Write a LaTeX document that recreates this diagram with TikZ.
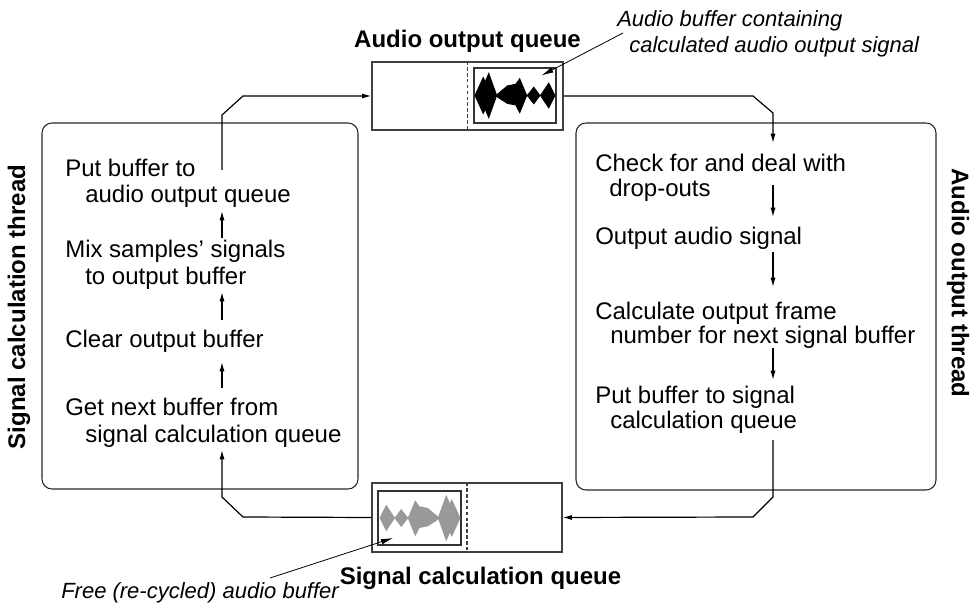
\documentclass[tikz,border=0pt]{standalone}
\usepackage{fontspec}
\setmainfont{Liberation Sans}
\usetikzlibrary{arrows.meta}

\tikzset{
  stxt/.style={anchor=base west, inner sep=0pt, font=\fontsize{18}{20}\selectfont},
  ttl/.style={inner sep=0pt, font=\fontsize{18}{20}\selectfont\bfseries},
  note/.style={anchor=base west, inner sep=0pt, font=\fontsize{16.5}{18}\selectfont\itshape},
  threadbox/.style={draw=black!85, line width=0.8pt, rounded corners=7.5pt},
  qbox/.style={draw=black!75, line width=0.9pt, inner sep=0pt},
  bufbox/.style={draw=black!80, line width=0.8pt},
  flow/.style={draw=black, line width=0.9pt, -{Latex[length=7pt,width=3.8pt]}},
  pointer/.style={draw=black, line width=0.6pt, -{Latex[length=9pt,width=4.2pt]}},
}

% waveform drawn in pixel units, left edge at u=0, centre line at v=0
\newcommand{\wavedraw}[1]{%
  \fill[#1] (0,0) -- (8.7,-19) -- (17.7,0) -- (8.7,19) -- cycle;
  \fill[#1] (4.3,0) -- (14.3,-23.3) -- (22.7,0) -- (14.3,23.3) -- cycle;
  \fill[#1] (21,0) -- (24.3,-3) -- (32.7,-10) -- (41,-11.7) -- (45.3,-17.7) -- (52.7,0)
            -- (45.3,18.3) -- (41,10) -- (32.7,8.3) -- (24.3,3) -- cycle;
  \fill[#1] (52.2,0) -- (59.3,-9) -- (66,0) -- (59.3,9) -- cycle;
  \fill[#1] (65.5,0) -- (74.3,-13.3) -- (81,0) -- (74.3,13.3) -- cycle;
}

\begin{document}
\begin{tikzpicture}[x=0.75pt, y=-0.75pt]
\useasboundingbox (0,0) rectangle (972,606);

% thread boxes
\node[threadbox, minimum width=237pt, minimum height=274.5pt] (lt) at (200,306) {};
\node[threadbox, minimum width=270pt, minimum height=275.25pt] (rt) at (756,306.5) {};

\node[ttl, rotate=90] (ltl) at (19,307) {Signal calculation thread};
\node[ttl, rotate=-90] (rtl) at (958,283) {Audio output thread};

% queues
\node[qbox, minimum width=143.25pt, minimum height=51pt] (outq) at (467.5,96) {};
\node[qbox, minimum width=142.5pt, minimum height=51.75pt] (sigq) at (467,517.5) {};
\draw[black!75, line width=0.9pt, dash pattern=on 2.6pt off 1.8pt] (outq.north) -- (outq.south);
\draw[black!75, line width=0.9pt, dash pattern=on 2.6pt off 1.8pt] (sigq.north) -- (sigq.south);

\node[ttl, anchor=base] (outqt) at (467.5,48) {Audio output queue};
\node[ttl, anchor=base] (sigqt) at (480.5,584) {Signal calculation queue};

% buffers
\node[bufbox, minimum width=61.5pt, minimum height=41.25pt, inner sep=0pt] (fullbuf) at (515,95.5) {};
\node[bufbox, minimum width=62.25pt, minimum height=40.5pt, inner sep=0pt] (freebuf) at (419.5,518) {};
\begin{scope}[shift={(474.5,95.5)}]
  \wavedraw{black}
\end{scope}
\begin{scope}[shift={(460.5,518)}, xscale=-1]
  \wavedraw{black!40}
\end{scope}

% buffer annotations
\node[note] (fulla) at (617,27) {Audio buffer containing};
\node[note] (fullb) at (629,53) {calculated audio output signal};
\node[note] (freea) at (61,598) {Free (re-cycled) audio buffer};
\coordinate (fullp) at (623,33);
\coordinate (freep) at (270,578);
\draw[pointer] (fullp) -- (541.5,75.5);
\draw[pointer] (freep) -- (393,538);

% signal calculation steps
\node[stxt] (l1a) at (65,177) {Put buffer to};
\node[stxt] (l1b) at (85,203) {audio output queue};
\node[stxt] (l2a) at (65,258) {Mix samples’ signals};
\node[stxt] (l2b) at (85,285) {to output buffer};
\node[stxt] (l3)  at (65,348) {Clear output buffer};
\node[stxt] (l4a) at (65,415) {Get next buffer from};
\node[stxt] (l4b) at (85,442) {signal calculation queue};

% audio output steps
\node[stxt] (r1a) at (595,172) {Check for and deal with};
\node[stxt] (r1b) at (609,197) {drop-outs};
\node[stxt] (r2)  at (595,245) {Output audio signal};
\node[stxt] (r3a) at (595,320) {Calculate output frame};
\node[stxt] (r3b) at (610,344) {number for next signal buffer};
\node[stxt] (r4a) at (595,403) {Put buffer to signal};
\node[stxt] (r4b) at (610,428) {calculation queue};

% connector points
\coordinate (lout) at (222,170);
\coordinate (lb1) at (222,115);
\coordinate (lb2) at (243,96);
\coordinate (rb1) at (753,96);
\coordinate (rb2) at (773,113);
\coordinate (rin) at (773,143);
\coordinate (rout) at (773,440);
\coordinate (rb3) at (773,497);
\coordinate (rb4) at (753,517);
\coordinate (lb3) at (243,517);
\coordinate (lb4) at (222,497);
\coordinate (lin) at (222,450);

% loop between threads and queues
\draw[flow] (lout) -- (lb1) -- (lb2) -- (outq.west);
\draw[flow] (outq.east) -- (rb1) -- (rb2) -- (rin);
\draw[flow] (rout) -- (rb3) -- (rb4) -- (sigq.east);
\draw[flow] (sigq.west) -- (lb3) -- (lb4) -- (lin);

% steps inside the signal calculation thread
\coordinate (la1) at (222,388); \coordinate (la2) at (222,362);
\coordinate (lc1) at (222,320); \coordinate (lc2) at (222,292);
\coordinate (le1) at (222,238); \coordinate (le2) at (222,211);
\draw[flow] (la1) -- (la2);
\draw[flow] (lc1) -- (lc2);
\draw[flow] (le1) -- (le2);

% steps inside the audio output thread
\coordinate (ra1) at (773,185); \coordinate (ra2) at (773,217);
\coordinate (rc1) at (773,252); \coordinate (rc2) at (773,287);
\coordinate (re1) at (773,348); \coordinate (re2) at (773,380);
\draw[flow] (ra1) -- (ra2);
\draw[flow] (rc1) -- (rc2);
\draw[flow] (re1) -- (re2);
\end{tikzpicture}
\end{document}
